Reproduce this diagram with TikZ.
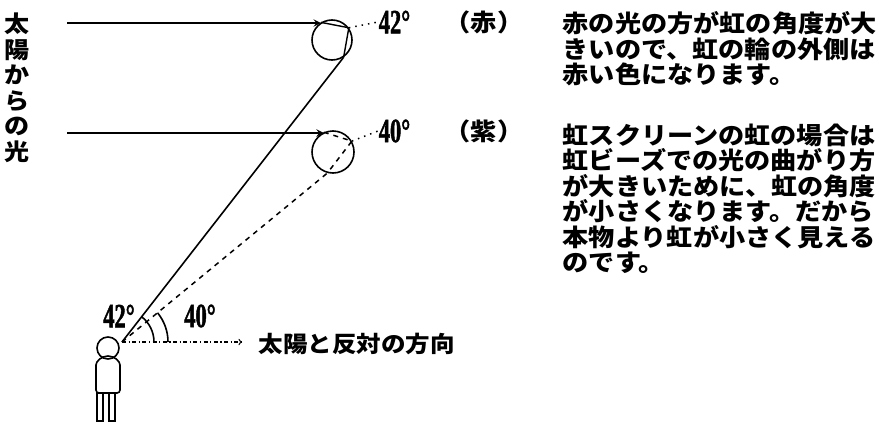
\documentclass[tikz,border=0pt]{standalone}
\usepackage{fontspec}
\usetikzlibrary{shapes,angles}
\newfontfamily\jp{Noto Sans CJK JP}[FakeStretch=1.09]
\newfontfamily\degfont{Liberation Serif}[FakeStretch=0.66,FakeBold=1.2]

\begin{document}
\begin{tikzpicture}[x=1pt,y=-1pt,line width=1.6pt]
  \tikzstyle{jtext}=[font=\jp\bfseries\fontsize{24}{25.5}\selectfont,inner sep=0,align=left]
  \tikzstyle{deglabel}=[font=\degfont\bfseries\fontsize{34}{34}\selectfont,inner sep=0]
  \tikzstyle{drop}=[circle,draw,inner sep=0,minimum size=40pt]
  \tikzstyle{ray}=[line width=2.2pt,-stealth]
  \tikzstyle{sight}=[line width=1.5pt,dash pattern=on 5pt off 5pt]
  \useasboundingbox (0,0) rectangle (882,423);
  % raindrops
  \node[drop] (rd) at (332,40) {};
  \node[drop,minimum size=42pt] (rv) at (333,152) {};
  \coordinate (s1) at (67,23);
  \coordinate (s2) at (67,133);
  \coordinate (rdin) at (rd.122);
  \coordinate (rdout) at (rd.-56);
  \coordinate (rvin) at (rv.115);
  \coordinate (rvout) at (rv.-105);
  \draw[ray] (s1) -- (s1 -| rdin);
  \draw[ray] (s2) -- (s2 -| rvin);
  \draw[line width=1.4pt] (rdin) -- (rd.36) -- (rdout);
  \draw[sight] (rvin) -- (rv.30) -- (rvout);
  % labels at the drops
  \node[deglabel,anchor=west] (a42) at (378,22) {42°};
  \node[deglabel,anchor=west] (a40) at (378,131) {40°};
  \node[jtext,anchor=west] (red) at (444,22) {（赤）};
  \node[jtext,anchor=west] (vio) at (444,131) {（紫）};
  \draw[line width=1.5pt,dash pattern=on 1.5pt off 5pt] (rd.36) -- (a42.west);
  \draw[line width=1.5pt,dash pattern=on 1.5pt off 5pt] (rv.30) -- (a40.west);
  % person
  \coordinate (eye) at (122,342);
  \node[circle,draw,inner sep=0,minimum size=22pt] (head) at (108,348) {};
  \draw[rounded corners=3pt] (96,393) -- (96,368) arc[start angle=180,end angle=360,radius=12] -- (120,393) -- cycle;
  \draw (97,393) rectangle (103,421) (109,393) rectangle (115,421);
  % lines of sight
  \draw (eye) -- (rdout);
  \draw[sight] (eye) -- (rvout);
  \coordinate (away) at (242,342);
  \draw[line width=1.3pt,dash pattern=on 4pt off 2.5pt on 1.2pt off 2.5pt,->] (eye) -- (away);
  \pic[draw,angle radius=32pt] {angle=away--eye--rdout};
  \pic[draw,angle radius=46pt] {angle=away--eye--rvout};
  \node[deglabel] (b42) at (119,316) {42°};
  \node[deglabel] (b40) at (200,316) {40°};
  \node[jtext,font=\jp\bfseries\fontsize{22.5}{25}\selectfont,anchor=west] (opp) at (258,344) {太陽と反対の方向};
  % texts
  \node[jtext,align=center,font=\jp\bfseries\fontsize{23}{25.6}\selectfont,anchor=north] (sun) at (17,12) {太\\陽\\か\\ら\\の\\光};
  \node[jtext,anchor=north west] (note1) at (562,11) {赤の光の方が虹の角度が大\\きいので、虹の輪の外側は\\赤い色になります。};
  \node[jtext,anchor=north west] (note2) at (562,123) {虹スクリーンの虹の場合は\\虹ビーズでの光の曲がり方\\が大きいために、虹の角度\\が小さくなります。だから\\本物より虹が小さく見える\\のです。};
\end{tikzpicture}
\end{document}
